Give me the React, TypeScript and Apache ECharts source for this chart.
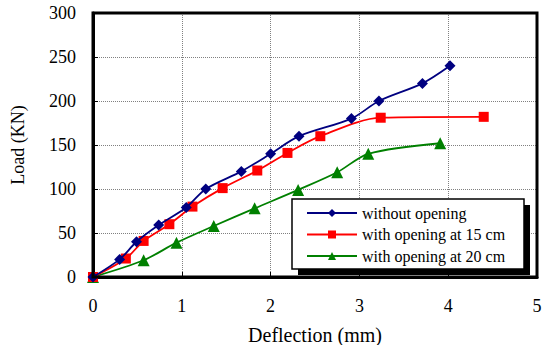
import React, { useEffect, useRef } from "react";
import * as echarts from "echarts";

const seriesNames = ["without opening", "with opening at 15 cm", "with opening at 20 cm"];
const withoutOpening: number[][] = [
  [0, 0], [0.3, 20], [0.49, 40], [0.74, 59], [1.05, 79], [1.27, 100], [1.67, 120],
  [2.0, 140], [2.32, 160], [2.91, 180], [3.22, 200], [3.71, 220], [4.02, 240],
];
const opening15: number[][] = [
  [0, 0], [0.37, 21], [0.57, 41], [0.86, 60], [1.12, 80], [1.46, 101], [1.85, 121],
  [2.19, 141], [2.56, 160], [3.24, 181], [4.4, 182],
];
const opening20: number[][] = [
  [0, 0], [0.57, 19], [0.94, 39], [1.36, 58], [1.82, 78], [2.31, 99], [2.75, 119],
  [3.1, 140], [3.91, 152],
];
const colors = ["#000080", "#FF0000", "#008000"];
const symbols = ["diamond", "rect", "triangle"];
const symbolSizes = [11, 10, 12];

const FONT = "Times New Roman";

export default function App() {
  const ref = useRef<HTMLDivElement>(null);
  useEffect(() => {
    if (!ref.current) return;
    const chart = echarts.init(ref.current, undefined, { renderer: "svg" });
    const datasets = [withoutOpening, opening15, opening20];
    chart.setOption({
      animation: false,
      backgroundColor: "#fff",
      textStyle: { fontFamily: FONT },
      grid: { left: 93, right: 5, top: 13, bottom: 68, show: true, borderColor: "#000", borderWidth: 3, z: 6, outerBoundsMode: "none", containLabel: false },
      xAxis: {
        type: "value",
        min: 0,
        max: 5,
        interval: 1,
        name: "Deflection (mm)",
        nameLocation: "middle",
        nameGap: 48,
        nameTextStyle: { fontFamily: FONT, fontSize: 20, color: "#000" },
        axisLine: { onZero: false, lineStyle: { color: "#000", width: 3 } },
        axisTick: { inside: true, length: 5, lineStyle: { color: "#000", width: 1 } },
        axisLabel: { fontFamily: FONT, fontSize: 18, color: "#000", margin: 20 },
        splitLine: { show: true, lineStyle: { color: "#808080", type: "dotted", width: 1 } },
      },
      yAxis: {
        type: "value",
        min: 0,
        max: 300,
        interval: 50,
        name: "Load (KN)",
        nameLocation: "middle",
        nameGap: 66,
        nameTextStyle: { fontFamily: FONT, fontSize: 18, color: "#000" },
        axisLine: { show: true, lineStyle: { color: "#000", width: 3 } },
        axisTick: { show: true, inside: true, length: 5, lineStyle: { color: "#000", width: 1 } },
        axisLabel: { fontFamily: FONT, fontSize: 18, color: "#000", margin: 17 },
        splitLine: { show: true, lineStyle: { color: "#808080", type: "dotted", width: 1 } },
      },
      legend: {
        orient: "vertical",
        left: 292,
        top: 199,
        padding: [6, 12, 6, 14],
        itemGap: 5.5,
        itemWidth: 50,
        itemHeight: 10,
        backgroundColor: "transparent",
        borderWidth: 0,
        textStyle: { fontFamily: FONT, fontSize: 16, color: "#000" },
        data: seriesNames,
        z: 10,
      },
      graphic: [
        {
          type: "rect",
          shape: { x: 298, y: 205, width: 232, height: 70 },
          style: { fill: "#000" },
          z: 7,
          silent: true,
        },
        {
          type: "rect",
          shape: { x: 292, y: 199, width: 232, height: 70 },
          style: { fill: "#fff", stroke: "#000", lineWidth: 1.5 },
          z: 8,
          silent: true,
        },
      ],
      series: datasets.map((d, i) => ({
        name: seriesNames[i],
        type: "line",
        data: d,
        smooth: 0.3,
        symbol: symbols[i],
        symbolSize: symbolSizes[i],
        showAllSymbol: true,
        itemStyle: { color: colors[i] },
        lineStyle: { color: colors[i], width: 1.8 },
        z: 5 - i,
      })),
    });
    return () => chart.dispose();
  }, []);
  return <div ref={ref} style={{ width: 542, height: 345, position: "absolute", left: 0, top: 0 }} />;
}
